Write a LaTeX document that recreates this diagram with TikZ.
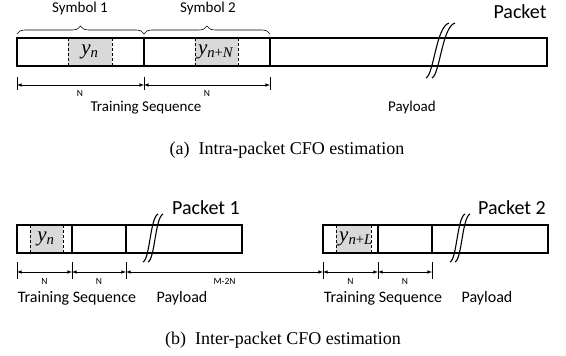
\documentclass[tikz,border=0pt]{standalone}
\usepackage{fontspec}
\newfontfamily\calfont{Carlito}
\newfontfamily\timesfont{Liberation Serif}
\usetikzlibrary{decorations.pathreplacing}
\pgfdeclarelayer{edgelayer}
\pgfdeclarelayer{nodelayer}
\pgfsetlayers{edgelayer,nodelayer,main}
\tikzstyle{none} = []
\tikzstyle{big} = [font={\calfont\fontsize{20}{22}\selectfont}]
\tikzstyle{mid} = [font={\calfont\fontsize{15}{17}\selectfont}]
\tikzstyle{midb} = [font={\calfont\fontsize{16}{18}\selectfont}]
\tikzstyle{small} = [font={\calfont\fontsize{9.5}{11}\selectfont}]
\tikzstyle{sym} = [font={\timesfont\fontsize{21}{23}\selectfont}, inner sep=0pt]
\tikzstyle{capt} = [font={\timesfont\fontsize{18}{20}\selectfont}]
\tikzstyle{frame} = [draw, line width=1.6pt]
\tikzstyle{shade} = [fill=black!15]
\tikzstyle{dashln} = [densely dashed, line width=0.6pt]
\tikzstyle{dim} = [latex-latex, line width=0.6pt]
\tikzstyle{tick} = [line width=0.6pt]
\tikzstyle{brk} = [line width=1.1pt]
\tikzstyle{brc} = [decorate, decoration={brace, amplitude=8pt}, line width=0.6pt]
\newcommand{\ysub}[1]{\textit{y}\textsubscript{#1}}

\begin{document}
\begin{tikzpicture}[x=1pt, y=-1pt]
	\useasboundingbox (0, 0) rectangle (566, 356);
	\begin{pgfonlayer}{nodelayer}
		\node [style=none] (0) at (17, 38) {};
		\node [style=none] (1) at (547, 66) {};
		\node [style=none] (2) at (144, 38) {};
		\node [style=none] (3) at (144, 66) {};
		\node [style=none] (4) at (270, 38) {};
		\node [style=none] (5) at (270, 66) {};
		\node [style=none] (6) at (68, 38) {};
		\node [style=none] (7) at (112, 66) {};
		\node [style=sym] (8) at (90, 52) {\ysub{\textit{n}}};
		\node [style=none] (9) at (195, 38) {};
		\node [style=none] (10) at (238, 66) {};
		\node [style=sym] (11) at (216, 52) {\ysub{\textit{n}+\textit{N}}};
		\node [style=none] (12) at (17, 34) {};
		\node [style=none] (13) at (144, 34) {};
		\node [style=none] (14) at (270, 34) {};
		\node [style=mid] (15) at (80, 9) {Symbol 1};
		\node [style=mid] (16) at (208, 9) {Symbol 2};
		\node [style=big] (17) at (520, 12) {Packet};
		\node [style=none] (18) at (17, 77) {};
		\node [style=none] (19) at (17, 90) {};
		\node [style=none] (20) at (144, 77) {};
		\node [style=none] (21) at (144, 90) {};
		\node [style=none] (22) at (270, 77) {};
		\node [style=none] (23) at (270, 90) {};
		\node [style=none] (24) at (17, 85) {};
		\node [style=none] (25) at (144, 85) {};
		\node [style=none] (26) at (270, 85) {};
		\node [style=small] (27) at (80, 93) {N};
		\node [style=small] (28) at (207, 93) {N};
		\node [style=mid] (29) at (146, 108) {Training Sequence};
		\node [style=mid] (30) at (412, 108) {Payload};
		\node [style=capt] (31) at (287, 150) {(a)\enspace Intra-packet CFO estimation};
		\node [style=none] (32) at (17, 225) {};
		\node [style=none] (33) at (242, 253) {};
		\node [style=none] (34) at (72, 225) {};
		\node [style=none] (35) at (72, 253) {};
		\node [style=none] (36) at (126, 225) {};
		\node [style=none] (37) at (126, 253) {};
		\node [style=none] (38) at (30, 225) {};
		\node [style=none] (39) at (63, 253) {};
		\node [style=sym] (40) at (46, 239) {\ysub{\textit{n}}};
		\node [style=none] (41) at (323, 225) {};
		\node [style=none] (42) at (548, 253) {};
		\node [style=none] (43) at (378, 225) {};
		\node [style=none] (44) at (378, 253) {};
		\node [style=none] (45) at (432, 225) {};
		\node [style=none] (46) at (432, 253) {};
		\node [style=none] (47) at (336, 225) {};
		\node [style=none] (48) at (371, 253) {};
		\node [style=sym] (49) at (356, 239) {\ysub{\textit{n}+\textit{L}}};
		\node [style=big] (50) at (206, 208) {Packet 1};
		\node [style=big] (51) at (512, 208) {Packet 2};
		\node [style=none] (52) at (17, 262) {};
		\node [style=none] (53) at (17, 279) {};
		\node [style=none] (54) at (72, 262) {};
		\node [style=none] (55) at (72, 279) {};
		\node [style=none] (56) at (126, 262) {};
		\node [style=none] (57) at (126, 279) {};
		\node [style=none] (58) at (323, 262) {};
		\node [style=none] (59) at (323, 279) {};
		\node [style=none] (60) at (378, 262) {};
		\node [style=none] (61) at (378, 279) {};
		\node [style=none] (62) at (432, 262) {};
		\node [style=none] (63) at (432, 279) {};
		\node [style=none] (64) at (17, 272) {};
		\node [style=none] (65) at (72, 272) {};
		\node [style=none] (66) at (126, 272) {};
		\node [style=none] (67) at (323, 272) {};
		\node [style=none] (68) at (378, 272) {};
		\node [style=none] (69) at (432, 272) {};
		\node [style=small] (70) at (44.5, 281) {N};
		\node [style=small] (71) at (99, 281) {N};
		\node [style=small] (72) at (224.5, 281) {M-2N};
		\node [style=small] (73) at (350.5, 281) {N};
		\node [style=small] (74) at (405, 281) {N};
		\node [style=midb] (75) at (77, 298) {Training Sequence};
		\node [style=midb] (76) at (182, 298) {Payload};
		\node [style=midb] (77) at (383, 298) {Training Sequence};
		\node [style=midb] (78) at (487, 298) {Payload};
		\node [style=capt] (79) at (283, 340) {(b)\enspace Inter-packet CFO estimation};
	\end{pgfonlayer}
	\begin{pgfonlayer}{edgelayer}
		\fill [style=shade] (6.center) rectangle (7.center);
		\fill [style=shade] (9.center) rectangle (10.center);
		\fill [style=shade] (38.center) rectangle (39.center);
		\fill [style=shade] (47.center) rectangle (48.center);
		\draw [style=dashln] (6.center) to (6.center |- 7.center);
		\draw [style=dashln] (7.center |- 6.center) to (7.center);
		\draw [style=dashln] (9.center) to (9.center |- 10.center);
		\draw [style=dashln] (10.center |- 9.center) to (10.center);
		\draw [style=dashln] (38.center) to (38.center |- 39.center);
		\draw [style=dashln] (39.center |- 38.center) to (39.center);
		\draw [style=dashln] (47.center) to (47.center |- 48.center);
		\draw [style=dashln] (48.center |- 47.center) to (48.center);
		\draw [style=frame] (0.center) rectangle (1.center);
		\draw [style=frame] (2.center) to (3.center);
		\draw [style=frame] (4.center) to (5.center);
		\draw [style=frame] (32.center) rectangle (33.center);
		\draw [style=frame] (34.center) to (35.center);
		\draw [style=frame] (36.center) to (37.center);
		\draw [style=frame] (41.center) rectangle (42.center);
		\draw [style=frame] (43.center) to (44.center);
		\draw [style=frame] (45.center) to (46.center);
		\draw [style=brc] (12.center) to (13.center);
		\draw [style=brc] (13.center) to (14.center);
		\draw [style=tick] (18.center) to (19.center);
		\draw [style=tick] (20.center) to (21.center);
		\draw [style=tick] (22.center) to (23.center);
		\draw [style=dim] (24.center) to (25.center);
		\draw [style=dim] (25.center) to (26.center);
		\draw [style=tick] (52.center) to (53.center);
		\draw [style=tick] (54.center) to (55.center);
		\draw [style=tick] (56.center) to (57.center);
		\draw [style=tick] (58.center) to (59.center);
		\draw [style=tick] (60.center) to (61.center);
		\draw [style=tick] (62.center) to (63.center);
		\draw [style=dim] (64.center) to (65.center);
		\draw [style=dim] (65.center) to (66.center);
		\draw [style=dim] (66.center) to (67.center);
		\draw [style=dim] (67.center) to (68.center);
		\draw [style=dim] (68.center) to (69.center);
		% break marks
		\draw [style=brk] (426, 78) .. controls (434, 74) and (436, 27) .. (449, 23);
		\draw [style=brk] (432, 78) .. controls (440, 74) and (442, 27) .. (455, 23);
		\draw [style=brk] (143, 262) .. controls (150, 259) and (150, 218) .. (158, 214);
		\draw [style=brk] (148, 262) .. controls (155, 259) and (155, 218) .. (163, 214);
		\draw [style=brk] (450, 262) .. controls (457, 259) and (457, 218) .. (465, 214);
		\draw [style=brk] (455, 262) .. controls (462, 259) and (462, 218) .. (470, 214);
	\end{pgfonlayer}
\end{tikzpicture}
\end{document}
